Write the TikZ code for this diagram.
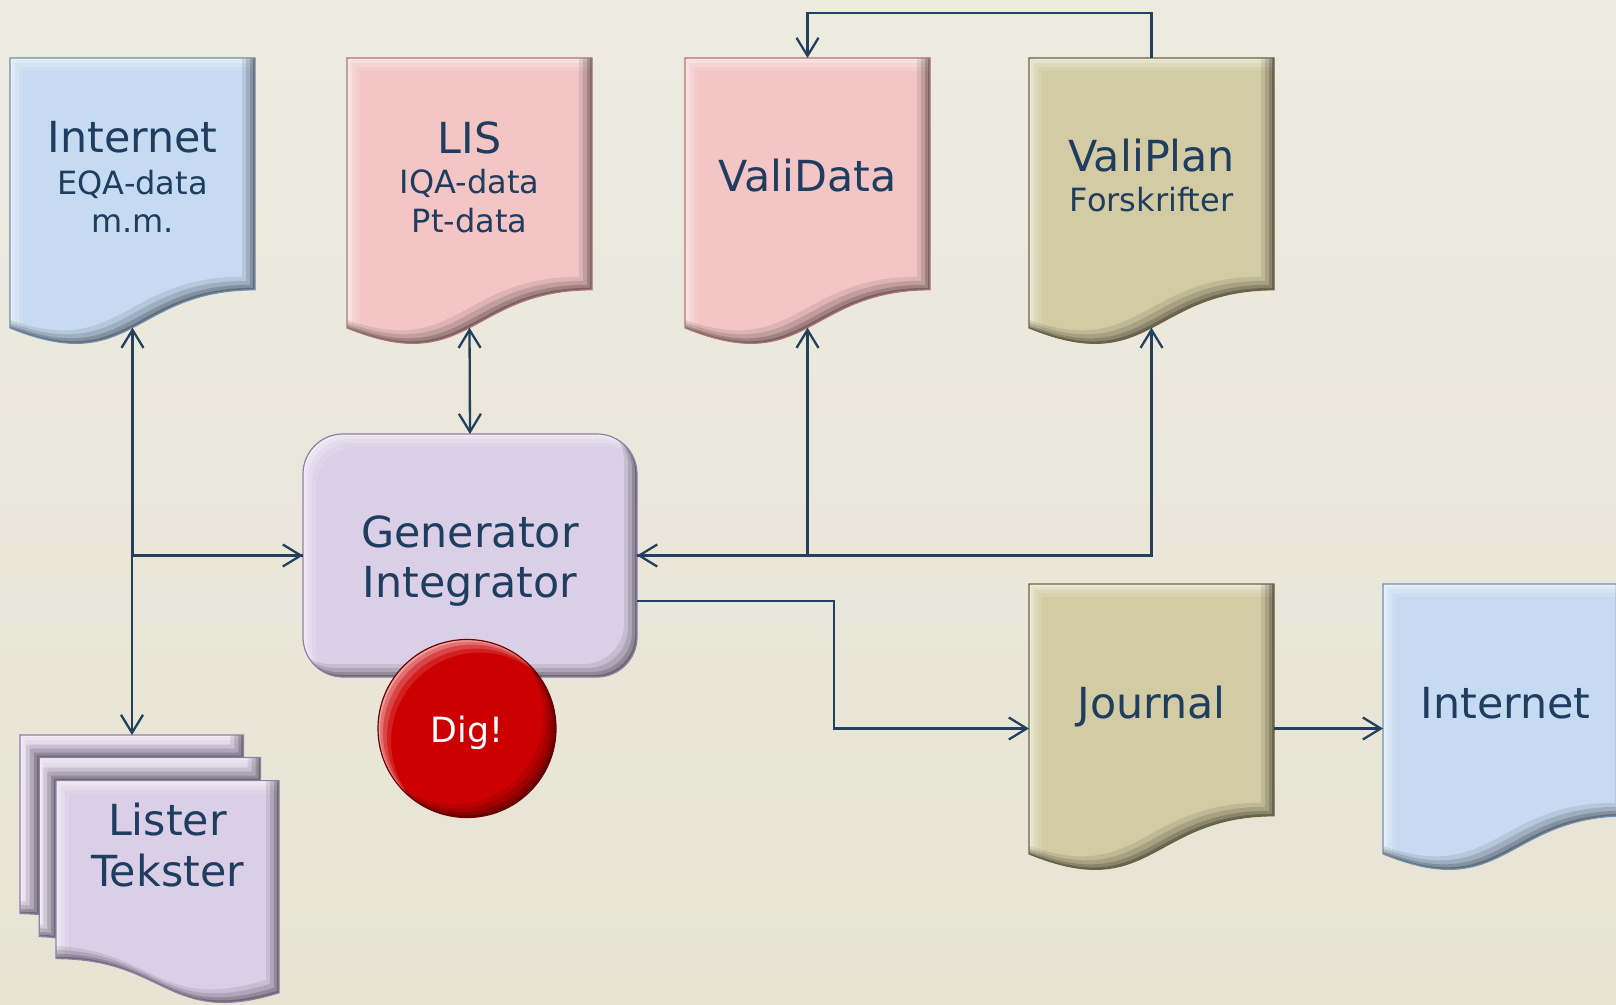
\documentclass[tikz,border=0pt]{standalone}
\usepackage{fontspec}
\setmainfont{DejaVu Sans}
\usetikzlibrary{arrows.meta,calc}
\definecolor{bgtop}{HTML}{EDEBE0}
\definecolor{bgbot}{HTML}{E7E4D4}
\definecolor{bluef}{HTML}{C6DBF1}
\definecolor{blued}{HTML}{6F8FB0}
\definecolor{pinkf}{HTML}{F4C5C5}
\definecolor{pinkd}{HTML}{B07272}
\definecolor{olivef}{HTML}{D3CBA3}
\definecolor{olived}{HTML}{6B6340}
\definecolor{lavf}{HTML}{DBCFE7}
\definecolor{lavd}{HTML}{8C7FA8}
\definecolor{redf}{HTML}{CC0000}
\definecolor{redd}{HTML}{6E0000}
\definecolor{txt}{HTML}{1F3D5F}
\definecolor{conncol}{HTML}{24405F}
\newcommand\bevelfx[1]{%
  \begin{scope}
    \clip #1;
    \foreach \bd/\bo in {13/0.12,9/0.17,5/0.24,2/0.34}{%
      \begin{scope}[shift={(\bd,\bd)}]
        \fill[white,opacity=\bo,even odd rule] (-3000,-3000) rectangle (5000,5000) #1;
      \end{scope}
    }
    \foreach \bd/\bo in {13/0.09,9/0.12,5/0.17,2/0.24}{%
      \begin{scope}[shift={(-\bd,-\bd)}]
        \fill[black,opacity=\bo,even odd rule] (-3000,-3000) rectangle (5000,5000) #1;
      \end{scope}
    }
  \end{scope}}
\newcommand\docpath[2]{(#1,#2) -- (#1+245,#2) -- (#1+245,#2+231.8) .. controls (#1+122.5,#2+231.8) and (#1+122.5,#2+320.1) .. (#1,#2+269.9) -- cycle}
\newcommand\docshape[5]{%
  \node[docbox] (#1) at (#2+122.5,#3+144.5) {};
  \fill[#4] \docpath{#2}{#3};
  \bevelfx{\docpath{#2}{#3}}
  \draw[#5,line width=0.6pt] \docpath{#2}{#3};
  \coordinate (#1-b) at (#2+122.5,#3+269.7);}
\newcommand\pagepath[1]{%
  \ifcase#1
   (243.4,757.5) -- (243.4,735) -- (20,735) -- (20,913.6) .. controls (29.6,913.6) and (39.2,914.5) .. (39.2,914.5) -- (39.2,757.5) -- cycle
  \or
   (260.6,780.6) -- (260.6,757.5) -- (39.2,757.5) -- (39.2,936.6) .. controls (47.6,936.6) and (56,937.9) .. (56,937.9) -- (56,780.6) -- cycle
  \or
   (279,992.8) .. controls (167.5,1027.1) and (167.5,958.6) .. (56,958.6) -- (56,780.6) -- (279,780.6) -- cycle
  \fi}
\newcommand\genpath{[rounded corners=20pt] (303,434) rectangle (637,677)}
\newcommand\digpath{(467,728.5) circle[radius=44.5pt]}
\tikzset{
  docbox/.style={draw=none,inner sep=0,outer sep=0,minimum width=122.5pt,minimum height=144.5pt},
  title/.style={anchor=base,text=txt,inner sep=0,font=\fontsize{21.4pt}{25pt}\selectfont},
  sub/.style={anchor=base,text=txt,inner sep=0,font=\fontsize{16pt}{19pt}\selectfont},
  conn/.style={draw=conncol,line width=1.15pt},
  >={Straight Barb[length=9pt,width=11pt]}
}
\begin{document}
\begin{tikzpicture}[x=0.5pt,y=-0.5pt]
\useasboundingbox (0,0) rectangle (1616,1005);
\clip (0,0) rectangle (1616,1005);
\shade[top color=bgtop,bottom color=bgbot] (0,0) rectangle (1616,1005);

% documents
\docshape{inet}{10}{58}{bluef}{blued}
\docshape{lis}{347}{58}{pinkf}{pinkd}
\docshape{vdata}{685}{58}{pinkf}{pinkd}
\docshape{vplan}{1029}{58}{olivef}{olived}
\docshape{jour}{1029}{584}{olivef}{olived}
\docshape{inetb}{1383}{584}{bluef}{blued}

% lister stack
\node[inner sep=0,outer sep=0,minimum width=129.5pt,minimum height=134pt] (lister) at (149.5,869) {};
\coordinate (lister-in) at (132,735);
\foreach \pg in {0,1,2}{
  \fill[lavf] \pagepath{\pg};
  \bevelfx{\pagepath{\pg}}
  \draw[lavd,line width=0.6pt] \pagepath{\pg};
}

% generator
\node[inner sep=0,outer sep=0,minimum width=167pt,minimum height=121.5pt] (gen) at (470,555.5) {};
\fill[lavf] \genpath;
\bevelfx{\genpath}
\draw[lavd,line width=0.6pt] \genpath;

% Dig!
\node[circle,inner sep=0,outer sep=0,minimum size=89pt] (dig) at (467,728.5) {};
\fill[redf] \digpath;
\bevelfx{\digpath}
\draw[redd,line width=0.6pt] \digpath;

% texts
\node[title] (t-inet1) at (132.5,153) {Internet};
\node[sub] (t-inet2) at (132.5,195) {EQA-data};
\node[sub] (t-inet3) at (132.5,233) {m.m.};
\node[title] (t-lis1) at (469.5,154) {LIS};
\node[sub] (t-lis2) at (469.5,194) {IQA-data};
\node[sub] (t-lis3) at (469.5,233) {Pt-data};
\node[title] (t-vdata) at (807.5,192) {ValiData};
\node[title] (t-vplan1) at (1151.5,172) {ValiPlan};
\node[sub] (t-vplan2) at (1151.5,212) {Forskrifter};
\node[title] (t-gen1) at (470,547) {Generator};
\node[title] (t-gen2) at (470,597) {Integrator};
\node[anchor=base,inner sep=0,text=white,font=\fontsize{17.4pt}{20pt}\selectfont] (t-dig) at (467,742) {Dig!};
\node[title] (t-list1) at (167.5,835) {Lister};
\node[title] (t-list2) at (167.5,886) {Tekster};
\node[title] (t-jour) at (1151.5,718) {Journal};
\node[title] (t-inetb) at (1505.5,718) {Internet};

% connectors
\draw[conn,<->] (inet-b) |- (gen.west);
\draw[conn,->] (gen.west) -| (lister-in);
\draw[conn,<->] (lis-b) -- (gen.north);
\draw[conn,->] (gen.east) -| (vdata-b);
\draw[conn,<->] (vplan-b) |- (gen.east);
\draw[conn,->] (vplan.north) -- ++(0,-45) -| (vdata.north);
\draw[conn,->] ($(gen.east)+(0,45.5)$) -- ++(197,0) |- (jour.west);
\draw[conn,->] (jour.east) -- (inetb.west);
\end{tikzpicture}
\end{document}
